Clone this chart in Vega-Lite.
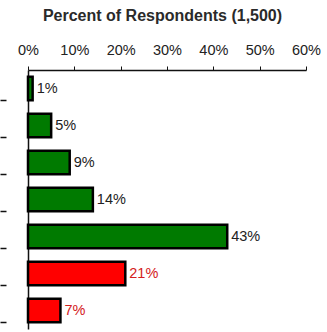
{
  "$schema": "https://vega.github.io/schema/vega-lite/v6.json",
  "autosize": {"type": "none"},
  "padding": {"left": 28, "top": 70, "right": 21, "bottom": 3},
  "width": 278,
  "height": 259,
  "background": "white",
  "config": {"view": {"stroke": null}, "font": "Liberation Sans"},
  "data": {"values": [
    {"item": "A", "pct": 0.01, "label": "1%", "group": "pos"},
    {"item": "B", "pct": 0.05, "label": "5%", "group": "pos"},
    {"item": "C", "pct": 0.09, "label": "9%", "group": "pos"},
    {"item": "D", "pct": 0.14, "label": "14%", "group": "pos"},
    {"item": "E", "pct": 0.43, "label": "43%", "group": "pos"},
    {"item": "F", "pct": 0.21, "label": "21%", "group": "neg"},
    {"item": "G", "pct": 0.07, "label": "7%", "group": "neg"}
  ]},
  "encoding": {
    "y": {
      "field": "item", "type": "nominal", "sort": null,
      "scale": {"paddingInner": 0.36, "paddingOuter": 0.18},
      "axis": {
        "title": null, "labels": false, "orient": "left",
        "bandPosition": 1,
        "domainColor": "#111", "domainWidth": 1.5,
        "tickColor": "#111", "tickWidth": 1.5, "tickSize": 28,
        "tickDash": [0, 22, 6, 0]
      }
    },
    "x": {
      "field": "pct", "type": "quantitative",
      "scale": {"domain": [0, 0.6], "nice": false},
      "axis": {
        "orient": "top", "format": ".0%", "values": [0, 0.1, 0.2, 0.3, 0.4, 0.5, 0.6],
        "labelFlush": false, "labelOverlap": false, "labelBound": false,
        "grid": false, "tickSize": 4, "tickColor": "#111", "domainColor": "#111", "domainWidth": 1.5,
        "labelFontSize": 14.5, "labelColor": "#222", "labelPadding": 9, "labelFont": "Liberation Sans",
        "title": "Percent of Respondents (1,500)", "titleFontSize": 16, "titleFontWeight": "bold",
        "titleColor": "#2a2a2a", "titleX": 134, "titleY": -50, "titleBaseline": "alphabetic", "titleAlign": "center"
      }
    }
  },
  "layer": [
    {
      "mark": {"type": "bar", "stroke": "black", "strokeWidth": 2.5},
      "encoding": {
        "color": {"field": "group", "type": "nominal", "scale": {"domain": ["pos", "neg"], "range": ["#007a00", "#ff0000"]}, "legend": null}
      }
    },
    {
      "mark": {"type": "text", "align": "left", "dx": 4, "fontSize": 14.5, "baseline": "middle"},
      "encoding": {
        "text": {"field": "label"},
        "fill": {"field": "group", "type": "nominal", "scale": {"domain": ["pos", "neg"], "range": ["#222222", "#d42020"]}, "legend": null}
      }
    }
  ]
}
